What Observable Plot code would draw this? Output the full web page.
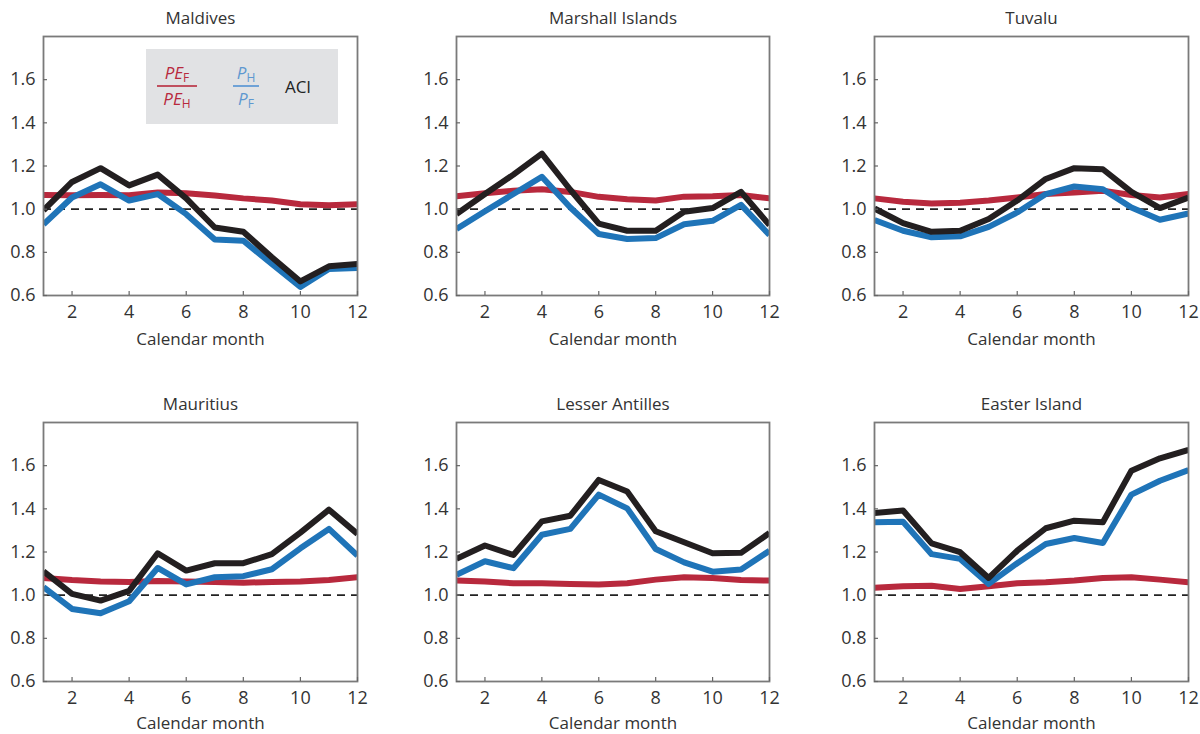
<!DOCTYPE html>
<html><head><meta charset="utf-8">
<script src="https://cdn.jsdelivr.net/npm/d3@7"></script>
<script src="https://cdn.jsdelivr.net/npm/@observablehq/plot@0.6"></script>
<style>
body{margin:0;background:#fff;}
#wrap{position:relative;width:1200px;height:734px;font-family:"Open Sans",sans-serif;overflow:hidden;}
.panel{position:absolute;}
.legend{position:absolute;left:146px;top:49px;width:192px;height:75px;background:#e1e2e4;}
.lg{position:absolute;transform:translate(-50%,-50%);font-size:17px;white-space:nowrap;line-height:1;}
.lg i{font-style:italic}
.lg sub{font-size:12px;vertical-align:-3px;font-style:normal}
.bar{position:absolute;height:1.5px;}
</style></head><body><div id="wrap"></div>
<script>
const months = [1,2,3,4,5,6,7,8,9,10,11,12];
const yTicks = [0.6,0.8,1.0,1.2,1.4,1.6];
const xTicks = [2,4,6,8,10,12];
const panelTitles = ["Maldives","Marshall Islands","Tuvalu","Mauritius","Lesser Antilles","Easter Island"];
const seriesNames = ["PE_F/PE_H","P_H/P_F","ACI"];

// PE_F / PE_H (red), P_H / P_F (blue), ACI (black)
const pe_maldives  = [1.066,1.065,1.066,1.065,1.077,1.074,1.063,1.050,1.040,1.023,1.018,1.023];
const p_maldives   = [0.930,1.054,1.115,1.040,1.070,0.977,0.860,0.854,0.746,0.640,0.723,0.728];
const aci_maldives = [0.995,1.126,1.190,1.110,1.160,1.050,0.915,0.895,0.777,0.665,0.735,0.746];

const pe_marshall  = [1.060,1.074,1.085,1.092,1.080,1.057,1.046,1.040,1.058,1.060,1.066,1.050];
const p_marshall   = [0.908,0.990,1.070,1.150,1.008,0.885,0.862,0.866,0.930,0.946,1.020,0.880];
const aci_marshall = [0.977,1.070,1.160,1.257,1.090,0.933,0.900,0.900,0.988,1.005,1.080,0.926];

const pe_tuvalu    = [1.050,1.034,1.026,1.030,1.040,1.054,1.070,1.077,1.085,1.066,1.054,1.070];
const p_tuvalu     = [0.950,0.900,0.870,0.874,0.918,0.985,1.070,1.105,1.092,1.008,0.951,0.980];
const aci_tuvalu   = [1.003,0.935,0.895,0.900,0.954,1.040,1.140,1.190,1.185,1.080,1.005,1.054];

const pe_mauritius = [1.080,1.070,1.063,1.061,1.066,1.063,1.061,1.058,1.061,1.063,1.070,1.083];
const p_mauritius  = [1.037,0.936,0.916,0.972,1.126,1.050,1.083,1.088,1.120,1.217,1.307,1.183];
const aci_mauritius= [1.110,1.006,0.975,1.020,1.194,1.114,1.148,1.148,1.190,1.290,1.396,1.284];

const pe_antilles  = [1.068,1.063,1.055,1.055,1.052,1.049,1.055,1.072,1.083,1.080,1.070,1.068];
const p_antilles   = [1.094,1.157,1.125,1.280,1.307,1.466,1.402,1.214,1.152,1.109,1.119,1.206];
const aci_antilles = [1.168,1.230,1.186,1.342,1.368,1.534,1.480,1.296,1.245,1.194,1.196,1.288];

const pe_easter    = [1.034,1.041,1.044,1.029,1.041,1.055,1.060,1.068,1.080,1.083,1.072,1.060];
const p_easter     = [1.338,1.340,1.190,1.168,1.052,1.148,1.237,1.265,1.242,1.466,1.530,1.580];
const aci_easter   = [1.381,1.392,1.240,1.199,1.080,1.206,1.310,1.345,1.338,1.577,1.634,1.673];

const panels = [
  [pe_maldives, p_maldives, aci_maldives],
  [pe_marshall, p_marshall, aci_marshall],
  [pe_tuvalu, p_tuvalu, aci_tuvalu],
  [pe_mauritius, p_mauritius, aci_mauritius],
  [pe_antilles, p_antilles, aci_antilles],
  [pe_easter, p_easter, aci_easter]
];
const colors = ["#b8293d","#1f74b8","#231f20"];

const cols = [{left:0, ml:43, mr:43},{left:400, ml:56, mr:31},{left:800, ml:74, mr:12}];
const rows = [{top:0, mt:36, mb:72, lab:44},{top:367, mt:55, mb:53, lab:42}];
const W = 400, H = 367;
const wrap = document.getElementById("wrap");
const fmt = d3.format(".1f");

panels.forEach((series, i) => {
  const c = cols[i % 3], r = rows[Math.floor(i / 3)];
  const fw = W - c.ml - c.mr;
  const fh = H - r.mt - r.mb;
  const lines = series.map((arr, k) =>
    Plot.line(months.map((m, j) => ({month: m, value: arr[j], series: seriesNames[k]})),
      {x: "month", y: "value", stroke: colors[k], strokeWidth: 6, strokeLinecap: "butt", strokeLinejoin: "round", clip: true}));
  const chart = Plot.plot({
    width: W, height: H,
    marginLeft: c.ml, marginRight: c.mr, marginTop: r.mt, marginBottom: r.mb,
    x: {domain: [1, 12], axis: null},
    y: {domain: [0.6, 1.8], axis: null},
    style: {fontFamily: "'Open Sans', sans-serif", fontSize: "18px", color: "#333", background: "transparent", overflow: "visible"},
    marks: [
      Plot.ruleY([1], {stroke: "#222", strokeWidth: 1.6, strokeDasharray: "8,6"}),
      ...lines,
      Plot.frame({stroke: "#7a7a7a", strokeWidth: 1.8}),
      Plot.tickX(xTicks, {x: d => d, insetTop: fh - 4, stroke: "#666", strokeWidth: 1.2}),
      Plot.tickY(yTicks, {y: d => d, insetRight: fw - 4, stroke: "#666", strokeWidth: 1.2}),
      Plot.text(xTicks, {x: d => d, text: d => String(d), frameAnchor: "bottom", dy: 17, lineAnchor: "middle", fontSize: 18, fill: "#333"}),
      Plot.text(yTicks, {y: d => d, text: d => fmt(d), frameAnchor: "left", dx: -8, textAnchor: "end", fontSize: 18, fill: "#333"}),
      Plot.text([panelTitles[i]], {frameAnchor: "top", dy: -18, lineAnchor: "middle", fontSize: 17, fill: "#333"}),
      Plot.text(["Calendar month"], {frameAnchor: "bottom", dy: r.lab, lineAnchor: "middle", fontSize: 17, fill: "#333"})
    ]
  });
  const div = document.createElement("div");
  div.className = "panel";
  div.style.left = c.left + "px";
  div.style.top = r.top + "px";
  div.appendChild(chart);
  wrap.appendChild(div);
});

// legend box in the first panel
const lg = document.createElement("div");
lg.className = "legend";
lg.innerHTML = `
  <div class="lg" style="left:31px;top:25px;color:#b8293d"><i>PE</i><sub>F</sub></div>
  <div class="bar" style="left:11px;top:36px;width:40px;background:#c0505f"></div>
  <div class="lg" style="left:31px;top:51px;color:#b8293d"><i>PE</i><sub>H</sub></div>
  <div class="lg" style="left:100px;top:25px;color:#5e98d0"><i>P</i><sub>H</sub></div>
  <div class="bar" style="left:87px;top:36px;width:26px;background:#6fa2d6"></div>
  <div class="lg" style="left:100px;top:51px;color:#5e98d0"><i>P</i><sub>F</sub></div>
  <div class="lg" style="left:152px;top:37px;color:#222">ACI</div>`;
wrap.appendChild(lg);
</script>
</body></html>
